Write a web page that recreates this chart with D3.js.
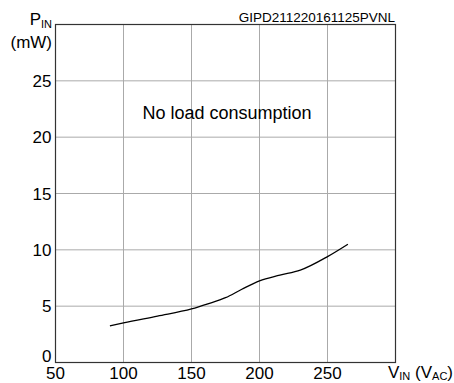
<!DOCTYPE html>
<html>
<head>
<meta charset="utf-8">
<script src="https://cdn.jsdelivr.net/npm/d3@7"></script>
<style>
  body { margin: 0; background: #fff; }
  text { font-family: "Liberation Sans", Arial, sans-serif; fill: #000; }
</style>
</head>
<body>
<svg id="chart" width="454" height="383"></svg>
<script>
// no load consumption curve
var vin = [90, 100, 125, 150, 162, 175, 187, 200, 215, 230, 250, 265];
var pin = [3.25, 3.52, 4.12, 4.75, 5.2, 5.75, 6.5, 7.25, 7.75, 8.2, 9.4, 10.5];
var xTicks = [50, 100, 150, 200, 250];
var yTicks = [0, 5, 10, 15, 20, 25];

var svg = d3.select("#chart"),
    plotL = 55.5, plotR = 395.5, plotT = 24.5, plotB = 362.5;

var x = d3.scaleLinear().domain([50, 300]).range([plotL, plotR]);
var y = d3.scaleLinear().domain([0, 30]).range([plotB, plotT]);

// grid
svg.append("g").selectAll("line")
  .data(xTicks.slice(1))
  .enter().append("line")
    .attr("x1", function(d) { return x(d); })
    .attr("x2", function(d) { return x(d); })
    .attr("y1", plotT).attr("y2", plotB)
    .attr("stroke", "#aaa").attr("stroke-width", 1);

svg.append("g").selectAll("line")
  .data(yTicks.slice(1))
  .enter().append("line")
    .attr("y1", function(d) { return y(d); })
    .attr("y2", function(d) { return y(d); })
    .attr("x1", plotL).attr("x2", plotR)
    .attr("stroke", "#aaa").attr("stroke-width", 1);

// frame
svg.append("rect")
  .attr("x", plotL).attr("y", plotT)
  .attr("width", plotR - plotL).attr("height", plotB - plotT)
  .attr("fill", "none").attr("stroke", "#333").attr("stroke-width", 1.2);

// tick labels
svg.append("g").selectAll("text")
  .data(yTicks)
  .enter().append("text")
    .attr("x", plotL - 4)
    .attr("y", function(d) { return d === 0 ? y(d) - 0.5 : y(d) + 6; })
    .attr("text-anchor", "end")
    .style("font-size", "17px")
    .text(function(d) { return d; });

svg.append("g").selectAll("text")
  .data(xTicks)
  .enter().append("text")
    .attr("x", function(d) { return x(d); })
    .attr("y", 379)
    .attr("text-anchor", "middle")
    .style("font-size", "17px")
    .text(function(d) { return d; });

// curve
var line = d3.line()
  .x(function(d, i) { return x(vin[i]); })
  .y(function(d) { return y(d); })
  .curve(d3.curveMonotoneX);

svg.append("path")
  .attr("d", line(pin))
  .attr("fill", "none")
  .attr("stroke", "#000")
  .attr("stroke-width", 1.3);

// labels
var py = svg.append("text").attr("x", 52).attr("y", 25).attr("text-anchor", "end").style("font-size", "17px");
py.append("tspan").text("P");
py.append("tspan").attr("dy", 3).style("font-size", "11px").text("IN");

svg.append("text").attr("x", 52).attr("y", 48).attr("text-anchor", "end")
  .style("font-size", "17px").text("(mW)");

var vx = svg.append("text").attr("x", 453).attr("y", 378).attr("text-anchor", "end").style("font-size", "17px");
vx.append("tspan").text("V");
vx.append("tspan").attr("dy", 2).style("font-size", "11px").text("IN");
vx.append("tspan").attr("dy", -2).text(" (V");
vx.append("tspan").attr("dy", 2).style("font-size", "11px").text("AC");
vx.append("tspan").attr("dy", -2).text(")");

svg.append("text").attr("x", 227).attr("y", 119).attr("text-anchor", "middle")
  .style("font-size", "18px").text("No load consumption");

svg.append("text").attr("x", 395).attr("y", 22).attr("text-anchor", "end")
  .style("font-size", "13.5px").text("GIPD211220161125PVNL");
</script>
</body>
</html>
